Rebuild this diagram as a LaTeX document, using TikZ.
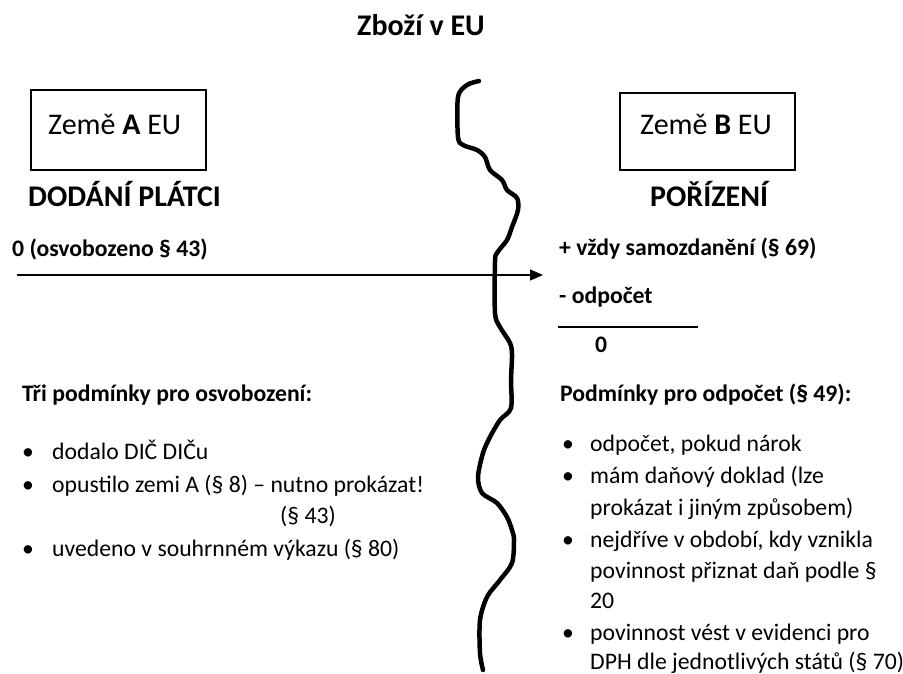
\documentclass[tikz,border=0pt]{standalone}
\usepackage{fontspec}
\setmainfont{Carlito}
\usetikzlibrary{arrows.meta}
\begin{document}
\begin{tikzpicture}[x=1pt,y=-1pt,
  txt/.style={anchor=base west, inner sep=0pt, font=\fontsize{23.7}{31}\selectfont},
  btxt/.style={anchor=base west, inner sep=0pt, font=\fontsize{23.7}{31}\selectfont\bfseries},
  head/.style={anchor=base west, inner sep=0pt, font=\fontsize{30}{34}\selectfont\bfseries},
  ctry/.style={anchor=base west, inner sep=0pt, font=\fontsize{30}{34}\selectfont},
  bul/.style={anchor=base west, inner sep=0pt, font=\fontsize{23.7}{31}\selectfont},
  cbox/.style={draw, line width=1.3pt, inner sep=0pt},
  thinline/.style={line width=1.3pt},
  border/.style={line width=4.5pt, line cap=round, line join=round}
]
\useasboundingbox (0,0) rectangle (903,673);
% title
\node[head] (title) at (357,35) {Zboží v EU};
% boxes
\node[cbox, minimum width=175pt, minimum height=80pt] (boxA) at (118.5,130) {};
\node[ctry] (zemeA) at (48,134) {Země \textbf{A} EU};
\node[cbox, minimum width=175pt, minimum height=77pt] (boxB) at (707.5,131.5) {};
\node[ctry] (zemeB) at (640,134) {Země \textbf{B} EU};
% headings
\node[head] (dodani) at (28,206) {DODÁNÍ PLÁTCI};
\node[head] (porizeni) at (650,206) {POŘÍZENÍ};
% left amounts
\node[btxt] (osv) at (12,256) {0 (osvobozeno § 43)};
% arrow
\coordinate (arrS) at (17,275);
\coordinate (arrE) at (543,275);
\draw[thinline, -{Triangle[length=13pt,width=11pt]}] (arrS) -- (arrE);
% right amounts
\node[btxt] (samo) at (559,255) {+ vždy samozdanění (§ 69)};
\node[btxt] (odp) at (559,303) {- odpočet};
\coordinate (ulS) at (558,327);
\coordinate (ulE) at (698,327);
\draw[thinline] (ulS) -- (ulE);
\node[btxt] (nula) at (595,352) {0};
% left conditions
\node[btxt] (tri) at (22,401) {Tři podmínky pro osvobození:};
\node[bul] (bl1) at (22,459) {•};
\node[txt] (l1) at (52,459) {dodalo DIČ DIČu};
\node[bul] (bl2) at (22,492) {•};
\node[txt] (l2) at (52,492) {opustilo zemi A (§ 8) – nutno prokázat!};
\node[txt] (l2b) at (280,523) {(§ 43)};
\node[bul] (bl3) at (22,556) {•};
\node[txt] (l3) at (52,556) {uvedeno v souhrnném výkazu (§ 80)};
% right conditions
\node[btxt] (podm) at (560,401) {Podmínky pro odpočet (§ 49):};
\node[bul] (br1) at (562,451) {•};
\node[txt] (r1) at (590,451) {odpočet, pokud nárok};
\node[bul] (br2) at (562,483) {•};
\node[txt] (r2a) at (590,483) {mám daňový doklad (lze};
\node[txt] (r2b) at (590,515) {prokázat i jiným způsobem)};
\node[bul] (br3) at (562,547) {•};
\node[txt] (r3a) at (590,547) {nejdříve v období, kdy vznikla};
\node[txt] (r3b) at (590,578) {povinnost přiznat daň podle §};
\node[txt] (r3c) at (590,608) {20};
\node[bul] (br4) at (562,640) {•};
\node[txt] (r4a) at (590,640) {povinnost vést v evidenci pro};
\node[txt] (r4b) at (590,669) {DPH dle jednotlivých států (§ 70)};
% border line
\draw[border] plot[smooth, tension=0.5] coordinates {
 (479,81) (467,85) (458,97) (458,137) (463,145) (477,150) (485,157) (490,170)
 (502,180) (507,190) (517,198) (518,210) (512,227) (507,240) (497,253) (495,262)
 (495,313) (500,327) (510,343) (512,355) (511,380) (511,408) (500,420) (490,437)
 (483,453) (478,477) (482,493) (497,503) (507,517) (512,530) (514,540) (512,563)
 (500,580) (487,597) (480,620) (480,653) (483,670)};
\end{tikzpicture}
\end{document}
